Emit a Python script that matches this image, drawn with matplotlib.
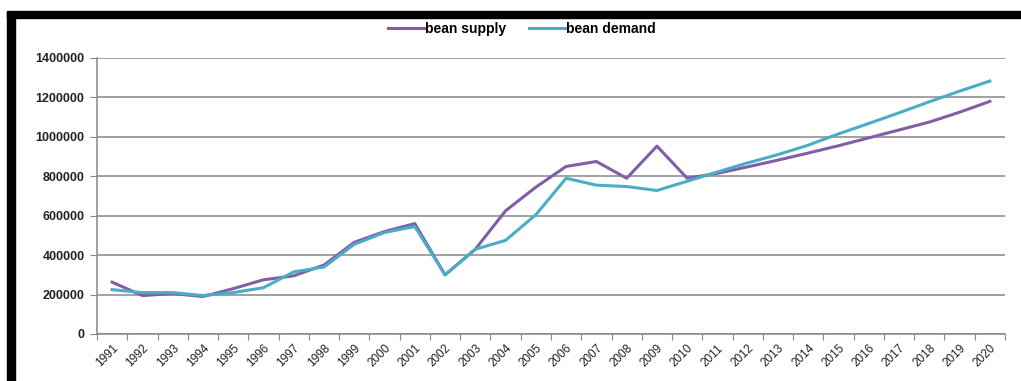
import matplotlib.pyplot as plt
from matplotlib.patches import Rectangle

years = [str(y) for y in range(1991, 2021)]

bean_supply = [263000, 195000, 205000, 190000, 230000, 275000, 295000, 350000,
               465000, 520000, 560000, 300000, 430000, 625000, 745000, 850000,
               875000, 790000, 953000, 790000, 815000, 848000, 882000, 918000,
               955000, 995000, 1035000, 1075000, 1125000, 1180000]

bean_demand = [225000, 210000, 210000, 195000, 210000, 235000, 315000, 340000,
               455000, 515000, 545000, 300000, 430000, 475000, 605000, 790000,
               755000, 748000, 728000, 775000, 822000, 868000, 910000, 958000,
               1015000, 1068000, 1122000, 1178000, 1232000, 1283000]

W, H = 1021, 381
fig = plt.figure(figsize=(W / 100, H / 100), dpi=100)
plt.rcParams['font.family'] = ['Liberation Sans', 'DejaVu Sans']

# black frame (top and left edges)
fig.patches.append(Rectangle((7 / W, 0), 8 / W, (H - 11.5) / H, transform=fig.transFigure,
                             color='black', zorder=5))
fig.patches.append(Rectangle((7 / W, (H - 18) / H), (W - 7) / W, 6.5 / H,
                             transform=fig.transFigure, color='black', zorder=5))

left, right, top, bottom = 97, 1005, 58, 334
ax = fig.add_axes([left / W, 1 - bottom / H, (right - left) / W, (bottom - top) / H])

x = range(len(years))
ax.plot(x, bean_supply, color='#7F60A8', lw=2.2, label='bean supply', solid_joinstyle='round')
ax.plot(x, bean_demand, color='#4BACC6', lw=2.2, label='bean demand', solid_joinstyle='round')

ax.set_xlim(-0.5, len(years) - 0.5)
ax.set_ylim(0, 1400000)
ax.set_yticks(range(0, 1400001, 200000))
ax.set_yticklabels([str(v) for v in range(0, 1400001, 200000)], fontsize=9,
                   color='#222222', fontweight='bold')
ax.yaxis.grid(True, color='#888888', lw=1.1)
ax.set_axisbelow(True)

ax.set_xticks([i - 0.5 for i in range(len(years) + 1)])
ax.set_xticklabels([])
ax.set_xticks(list(x), minor=True)
ax.set_xticklabels(years, minor=True, rotation=45, ha='right', rotation_mode='anchor',
                   fontsize=8.5, color='#222222')
ax.tick_params(axis='x', which='major', length=4, color='#888888', direction='out')
ax.tick_params(axis='x', which='minor', length=0, pad=6)
ax.tick_params(axis='y', length=5, color='#888888', pad=4)

for s in ['top', 'right']:
    ax.spines[s].set_visible(False)
for s in ['left', 'bottom']:
    ax.spines[s].set_color('#888888')
    ax.spines[s].set_linewidth(1.1)

fig.legend(loc='center', bbox_to_anchor=(522 / W, 1 - 29 / H), ncol=2, frameon=False,
           handlelength=2.6, handletextpad=0.1, columnspacing=1.6,
           prop={'weight': 'bold', 'size': 10})

fig.savefig('out.png', dpi=100)
